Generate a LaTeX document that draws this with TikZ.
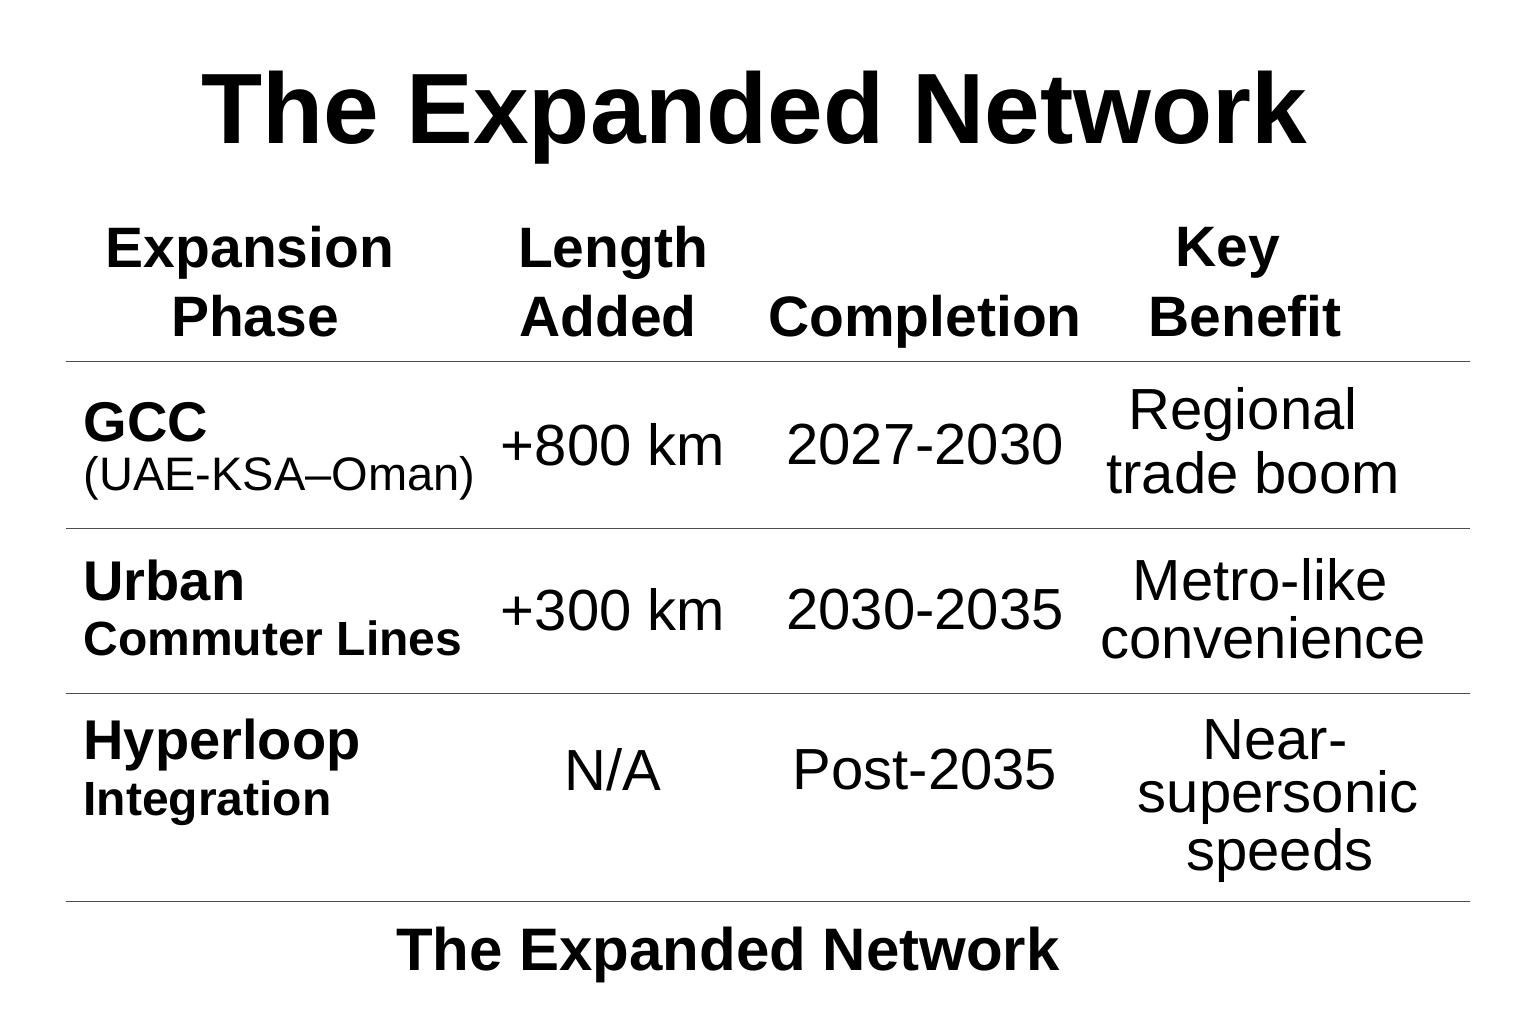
\documentclass[tikz,border=0pt]{standalone}
\usepackage{fontspec}
\setmainfont{Liberation Sans}
\begin{document}
\begin{tikzpicture}[x=1pt,y=-1pt,
  hd/.style={font=\fontsize{57}{62}\selectfont\bfseries,anchor=center},
  bd/.style={font=\fontsize{58}{62}\selectfont,anchor=center},
  lbl/.style={font=\fontsize{56}{60}\selectfont\bfseries,anchor=west},
  sub/.style={font=\fontsize{47}{50}\selectfont,anchor=west},
  subb/.style={font=\fontsize{48}{50}\selectfont\bfseries,anchor=west},
  rule/.style={line width=1pt,draw=black!70}]
\fill[white] (0,0) rectangle (1536,1024);
\useasboundingbox (0,0) rectangle (1536,1024);
\node[font=\fontsize{100}{110}\selectfont\bfseries] (title) at (754,118) {The Expanded Network};
% headers
\node[hd] (h1a) at (250,253) {Expansion};
\node[hd] (h1b) at (255,316) {Phase};
\node[hd] (h2a) at (613,253) {Length};
\node[hd] (h2b) at (608,316) {Added};
\node[hd] (h3) at (925,322) {Completion};
\node[hd] (h4a) at (1228,253) {Key};
\node[hd] (h4b) at (1245,316) {Benefit};
% rules
\coordinate (l1a) at (66,361); \coordinate (l1b) at (1470,361);
\coordinate (l2a) at (66,528); \coordinate (l2b) at (1470,528);
\coordinate (l3a) at (66,693); \coordinate (l3b) at (1470,693);
\coordinate (l4a) at (66,901); \coordinate (l4b) at (1470,901);
\draw[rule] (l1a) -- (l1b); \draw[rule] (l2a) -- (l2b);
\draw[rule] (l3a) -- (l3b); \draw[rule] (l4a) -- (l4b);
% row 1
\node[lbl] (r1a) at (80,422) {GCC};
\node[sub] (r1b) at (80,478) {(UAE-KSA–Oman)};
\node[bd] (r1c) at (613,445) {+800 km};
\node[bd] (r1d) at (925,445) {2027-2030};
\node[bd] (r1e) at (1243,415) {Regional};
\node[bd] (r1f) at (1253,473) {trade boom};
% row 2
\node[lbl] (r2a) at (80,580) {Urban};
\node[subb] (r2b) at (80,638) {Commuter Lines};
\node[bd] (r2c) at (613,610) {+300 km};
\node[bd] (r2d) at (925,610) {2030-2035};
\node[bd] (r2e) at (1260,580) {Metro-like};
\node[bd] (r2f) at (1263,638) {convenience};
% row 3
\node[lbl] (r3a) at (80,745) {Hyperloop};
\node[subb] (r3b) at (80,803) {Integration};
\node[bd] (r3c) at (613,770) {N/A};
\node[bd] (r3d) at (925,770) {Post-2035};
\node[bd] (r3e) at (1275,740) {Near-};
\node[bd] (r3f) at (1278,797) {supersonic};
\node[bd] (r3g) at (1280,855) {speeds};
% footer
\node[font=\fontsize{60}{64}\selectfont\bfseries] (foot) at (728,955) {The Expanded Network};
\end{tikzpicture}
\end{document}
